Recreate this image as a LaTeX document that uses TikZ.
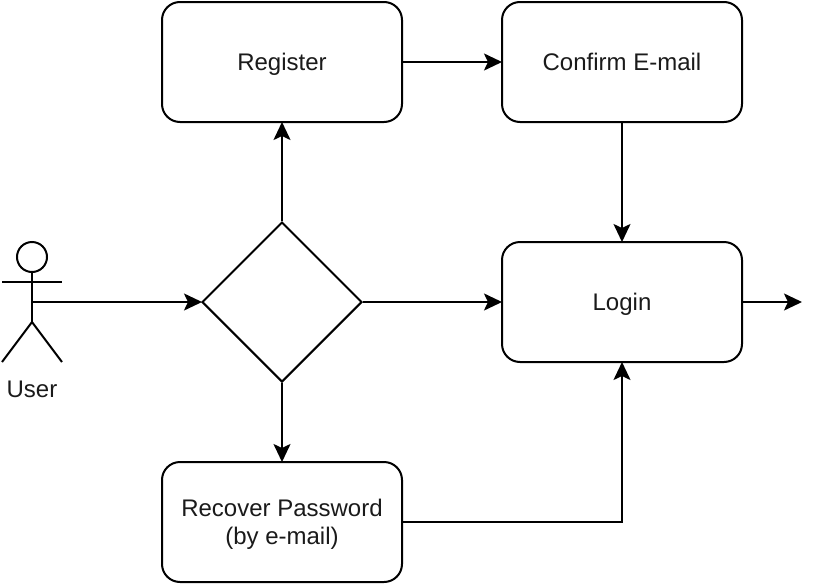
\documentclass[tikz,border=0pt]{standalone}
\usepackage{fontspec}
\setmainfont{Liberation Sans}
\usetikzlibrary{shapes.geometric,arrows.meta,positioning}
\definecolor{inkdark}{HTML}{000000}
\definecolor{textdark}{HTML}{1A1A1A}
\begin{document}
\begin{tikzpicture}[x=1pt,y=-1pt,
  every node/.style={inner sep=0pt, text=textdark, font=\fontsize{24}{28}\selectfont},
  task/.style={draw=inkdark, line width=2pt, rounded corners=18pt, minimum width=240pt, minimum height=120pt, align=center, text depth=0pt},
  choice/.style={draw=inkdark, line width=2pt, diamond, minimum width=160pt, minimum height=160pt},
  flow/.style={draw=inkdark, line width=2pt, shorten >=-1pt, -{Stealth[length=18pt,width=17pt,inset=4pt]}},
  body/.style={draw=inkdark, line width=2pt}]
  \useasboundingbox (0,0) rectangle (820,584);
  \node[task] (register) at (282,62) {Register};
  \node[task] (confirm) at (622,62) {Confirm E-mail};
  \node[task] (login) at (622,302) {Login};
  \node[task] (recover) at (282,522) {Recover Password\\(by e-mail)};
  \node[choice] (gate) at (282,302) {};
  % the little figure on the left
  \node[circle, draw=inkdark, line width=2pt, minimum size=30pt] (head) at (32,257) {};
  \coordinate (hip) at (32,322);
  \coordinate (waist) at (32,302);
  \coordinate (armL) at (2,282);
  \coordinate (armR) at (62,282);
  \coordinate (footL) at (2,362);
  \coordinate (footR) at (62,362);
  \coordinate (exit) at (801,302);
  \draw[body] (head) -- (hip);
  \draw[body] (armL) -- (armR);
  \draw[body] (footL) -- (hip) -- (footR);
  \node (user) at (32,389) {User};
  \draw[flow] (waist) -- (gate);
  \draw[flow] (gate) -- (register);
  \draw[flow] (gate) -- (login);
  \draw[flow] (gate) -- (recover);
  \draw[flow] (register) -- (confirm);
  \draw[flow] (confirm) -- (login);
  \draw[flow] (login) -- (exit);
  \draw[flow] (recover) -| (login);
\end{tikzpicture}
\end{document}
